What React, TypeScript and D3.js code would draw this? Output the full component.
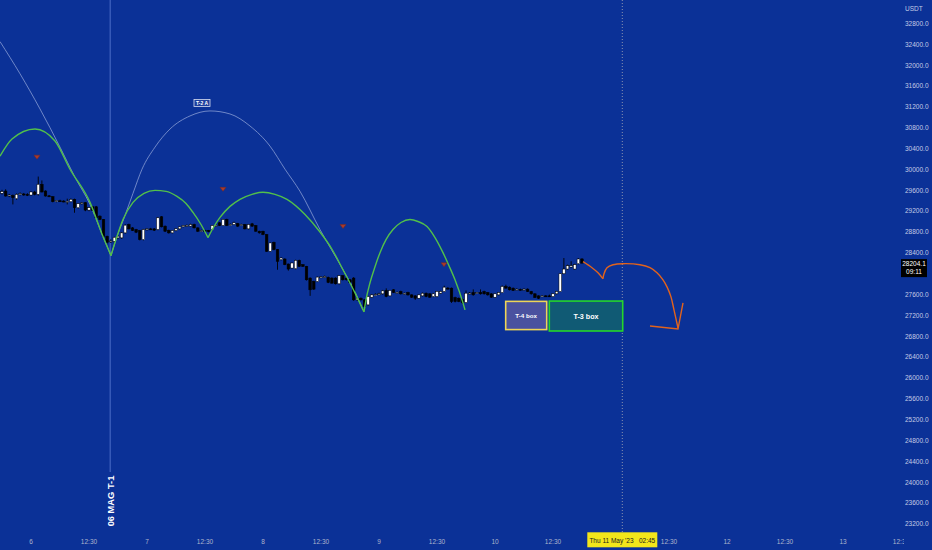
import React from "react";
import * as d3 from "d3";

const W = 932;
const H = 550;

// 45-minute bars, counted from 6 May 00:00 (32 bars per day)
const FIRST_BAR = -8;
const BARS_PER_DAY = 32;

const opens = [
  29545, 29587, 29495, 29500, 29440, 29520, 29530, 29522,
  29510, 29568, 29523, 29716, 29587, 29495, 29478, 29385, 29400, 29395,
  29383, 29382, 29427, 29266, 29343, 29362, 29221, 29285, 29285, 29105,
  29041, 28720, 28620, 28623, 28688, 28688, 28784, 28945, 28880, 28848,
  28829, 28656, 28848, 28861, 28861, 28848, 29093, 28913, 28835, 28784,
  28829, 28861, 28900, 28925, 28913, 28945, 28880, 28820, 28830, 28829,
  28848, 28925, 28977, 28925, 29041, 28940, 28945, 28964, 28940, 28945,
  28861, 28958, 28925, 28816, 28816, 28752, 28431, 28604, 28463, 28270,
  28283, 28187, 28109, 28097, 28257, 28174, 28141, 27917, 27852, 27852,
  27936, 27936, 27929, 27917, 27917, 27807, 27962, 27917, 27884, 27917,
  27499, 27531, 27499, 27403, 27550, 27595, 27600, 27615, 27679, 27576,
  27692, 27640, 27660, 27620, 27640, 27595, 27576, 27531, 27576, 27627,
  27615, 27563, 27563, 27627, 27660, 27724, 27724, 27544, 27531, 27512,
  27448, 27627, 27640, 27630, 27640, 27660, 27640, 27615, 27550, 27595,
  27640, 27756, 27743, 27724, 27700, 27700, 27692, 27705, 27660, 27615,
  27576, 27570, 27576, 27576, 27563, 27615, 27660, 28000, 28090, 28129,
  28090, 28193, 28283,
];
const highs = [
  29610, 29620, 29530, 29520, 29540, 29560, 29550, 29545,
  29580, 29590, 29864, 29790, 29600, 29510, 29490, 29410, 29420, 29410,
  29440, 29445, 29440, 29350, 29375, 29375, 29280, 29300, 29300, 29120,
  29050, 28730, 28660, 28710, 28730, 28800, 28950, 28960, 28895, 28860,
  28840, 28860, 28870, 28880, 28875, 29090, 29105, 28925, 28845, 28840,
  28870, 28910, 28935, 28945, 28960, 28960, 28890, 28845, 28845, 28840,
  28935, 28945, 28990, 29050, 29055, 28965, 29000, 28975, 28960, 28955,
  28955, 28975, 28935, 28825, 28825, 28760, 28600, 28615, 28475, 28315,
  28295, 28195, 28215, 28270, 28270, 28185, 28150, 27930, 27865, 27945,
  27955, 27965, 27945, 27930, 27930, 27975, 27975, 27930, 27900, 27935,
  27540, 27545, 27510, 27575, 27610, 27625, 27635, 27690, 27720, 27690,
  27705, 27660, 27675, 27640, 27655, 27605, 27590, 27605, 27640, 27640,
  27625, 27630, 27670, 27675, 27770, 27745, 27735, 27560, 27545, 27525,
  27680, 27650, 27700, 27650, 27700, 27675, 27650, 27625, 27625, 27650,
  27775, 27790, 27755, 27735, 27720, 27715, 27720, 27720, 27670, 27625,
  27585, 27590, 27590, 27600, 27625, 27670, 28010, 28302, 28175, 28240,
  28190, 28300, 28300,
];
const lows = [
  29520, 29480, 29470, 29330, 29420, 29500, 29495, 29490,
  29500, 29505, 29500, 29560, 29480, 29470, 29370, 29370, 29380, 29370,
  29330, 29370, 29170, 29250, 29330, 29200, 29200, 29205, 29060, 29030,
  28700, 28580, 28590, 28600, 28670, 28670, 28770, 28850, 28820, 28780,
  28640, 28640, 28830, 28845, 28820, 28835, 28890, 28800, 28770, 28775,
  28815, 28850, 28890, 28905, 28905, 28870, 28800, 28805, 28810, 28795,
  28835, 28910, 28915, 28915, 28915, 28925, 28935, 28900, 28925, 28850,
  28850, 28900, 28805, 28770, 28740, 28420, 28420, 28450, 28077, 28255,
  28165, 28060, 28100, 28085, 28130, 28130, 27870, 27576, 27690, 27840,
  27920, 27925, 27820, 27810, 27795, 27795, 27870, 27870, 27820, 27480,
  27480, 27485, 27350, 27390, 27540, 27580, 27590, 27600, 27550, 27565,
  27630, 27625, 27600, 27605, 27580, 27535, 27500, 27520, 27565, 27550,
  27540, 27550, 27550, 27615, 27650, 27700, 27440, 27450, 27455, 27420,
  27440, 27610, 27580, 27620, 27600, 27600, 27580, 27540, 27540, 27585,
  27630, 27715, 27680, 27670, 27690, 27680, 27685, 27650, 27600, 27535,
  27515, 27560, 27560, 27555, 27555, 27605, 27650, 27990, 28080, 28120,
  28080, 28180, 28195,
];
const closes = [
  29575, 29491, 29510, 29460, 29523, 29536, 29520, 29505,
  29568, 29523, 29716, 29568, 29491, 29491, 29382, 29405, 29395, 29385,
  29390, 29427, 29266, 29343, 29360, 29221, 29266, 29215, 29073, 29041,
  28720, 28604, 28630, 28700, 28720, 28784, 28932, 28861, 28829, 28797,
  28656, 28848, 28861, 28855, 28835, 29073, 28900, 28816, 28784, 28829,
  28861, 28900, 28925, 28930, 28945, 28880, 28816, 28830, 28825, 28810,
  28925, 28930, 28925, 29041, 28925, 28945, 28977, 28913, 28945, 28861,
  28945, 28913, 28816, 28784, 28752, 28431, 28591, 28463, 28238, 28302,
  28174, 28090, 28206, 28257, 28141, 28141, 27884, 27692, 27705, 27936,
  27940, 27949, 27833, 27820, 27807, 27962, 27884, 27884, 27833, 27499,
  27531, 27499, 27370, 27563, 27595, 27600, 27615, 27672, 27563, 27679,
  27640, 27645, 27615, 27627, 27595, 27550, 27531, 27595, 27627, 27563,
  27550, 27615, 27660, 27660, 27743, 27720, 27467, 27467, 27467, 27448,
  27627, 27630, 27595, 27640, 27615, 27615, 27595, 27550, 27615, 27640,
  27756, 27724, 27692, 27679, 27705, 27692, 27705, 27660, 27615, 27544,
  27531, 27576, 27570, 27563, 27615, 27660, 28000, 28090, 28154, 28154,
  28174, 28283, 28204.1,
];

const priceTicks = [
  23200, 23600, 24000, 24400, 24800, 25200, 25600, 26000, 26400, 26800,
  27200, 27600, 28000, 28400, 28800, 29200, 29600, 30000, 30400, 30800,
  31200, 31600, 32000, 32400, 32800,
];
const dayTicks = [6, 7, 8, 9, 10, 11, 12, 13];
const dayLabels = ["6", "7", "8", "9", "10", "11", "12", "13"];
const halfDayTicks = [6.5, 7.5, 8.5, 9.5, 10.5, 11.5, 12.5, 13.5];
const halfDayLabel = "12:30";
const currency = "USDT";
const lastPrice = 28204.1;
const lastPriceText = "28204.1";
const countdownText = "09:11";

// Drawings, as [day of May, price]
const greenArcs: [number, number][][] = [
  [[5.7328, 30255], [5.8362, 30583], [6.0345, 30776], [6.2069, 30545], [6.3362, 30005], [6.5086, 29369], [6.6207, 28713], [6.6897, 28347]],
  [[6.6897, 28347], [6.7241, 28598], [6.7931, 29041], [6.8793, 29369], [6.9741, 29542], [7.069, 29600], [7.1638, 29581], [7.2586, 29484], [7.3362, 29349], [7.3966, 29176], [7.4655, 28945], [7.5259, 28694]],
  [[7.5259, 28694], [7.5776, 28906], [7.6293, 29080], [7.7155, 29292], [7.8017, 29427], [7.9052, 29523], [8.0, 29562], [8.1034, 29523], [8.2069, 29427], [8.3621, 29137], [8.4914, 28800], [8.5948, 28470], [8.6897, 28077], [8.7931, 27634], [8.8707, 27268]],
  [[8.8707, 27268], [8.8879, 27499], [8.9224, 27827], [8.9655, 28135], [9.0086, 28405], [9.0603, 28655], [9.1207, 28848], [9.1897, 28983], [9.2672, 29041], [9.3362, 29002], [9.4138, 28906], [9.4828, 28694], [9.5517, 28405], [9.6034, 28154], [9.6552, 27884], [9.7241, 27441], [9.7414, 27306]],
];
const thinArcs: [number, number][][] = [
  [[5.7328, 32453], [5.9052, 31836], [6.0776, 31161], [6.25, 30429], [6.3793, 29851], [6.5086, 29330], [6.6207, 28713], [6.6897, 28347]],
  [[6.6897, 28347], [6.7241, 28598], [6.8103, 29118], [6.8793, 29542], [6.9569, 30005], [7.069, 30429], [7.1983, 30776], [7.3707, 31027], [7.5431, 31123], [7.7155, 31065], [7.8879, 30834], [8.0603, 30448], [8.1897, 30005], [8.319, 29581], [8.4914, 28848], [8.6897, 28077], [8.7931, 27653], [8.8621, 27306]],
];
const orangeHook: [number, number][] = [[10.7586, 28231], [10.8362, 28116], [10.8879, 28019], [10.931, 27904]];
const orangeArc: [number, number][] = [[10.931, 27904], [10.9397, 28000], [10.9655, 28116], [11.0172, 28173], [11.1034, 28193], [11.25, 28173], [11.3362, 28116], [11.3966, 28019], [11.4483, 27884], [11.4828, 27749], [11.5172, 27557], [11.5431, 27306], [11.5776, 26959]];
const arrowHead: [number, number][] = [[11.3362, 26998], [11.5776, 26940], [11.6207, 27441]];
const redMarkers: [number, number][] = [[6.0517, 30236], [7.6552, 29619], [8.6897, 28906], [9.5603, 28173]];
const t2Label = { day: 7.4741, price: 31277, text: "T-2 A" };
const t1Day = 6.6825;
const t1Text = "06 MAG T-1";
const crosshairDay = 11.0974;
const crosshairText = "Thu 11 May '23   02:45";
const t4Box = { d0: 10.0922, d1: 10.4457, p0: 27470, p1: 26929, text: "T-4 box" };
const t3Box = { d0: 10.4681, d1: 11.1009, p0: 27476, p1: 26902, text: "T-3 box" };

const BG = "#0b3197";
const FONT = "'Liberation Sans', Arial, sans-serif";

export default function App() {
  const x = d3.scaleLinear().domain([6, 13]).range([31, 843]);
  const y = d3.scaleLinear().domain([23200, 32800]).range([524, 23.5]);
  const barW = (x(1 / BARS_PER_DAY) - x(0)) * 0.72;

  const smooth = d3
    .line<[number, number]>()
    .x((d) => x(d[0]))
    .y((d) => y(d[1]))
    .curve(d3.curveMonotoneX);
  const line = d3
    .line<[number, number]>()
    .x((d) => x(d[0]))
    .y((d) => y(d[1]))
    .curve(d3.curveCatmullRom.alpha(0.5));
  const straight = d3
    .line<[number, number]>()
    .x((d) => x(d[0]))
    .y((d) => y(d[1]));

  const candles = closes.map((c, k) => {
    const t = 6 + (FIRST_BAR + k) / BARS_PER_DAY;
    return { t, o: opens[k], h: highs[k], l: lows[k], c };
  });

  // price-axis labels hidden behind the last-price tag, time labels hidden behind the crosshair tag
  const tagTop = y(lastPrice) - 4;
  const tagBottom = tagTop + 18;
  const visiblePriceTicks = priceTicks.filter((p) => y(p) + 3 < tagTop || y(p) - 3 > tagBottom);
  const chX = x(crosshairDay);
  const visibleDay = dayTicks.map((d, i) => ({ d, label: dayLabels[i] })).filter((o) => Math.abs(x(o.d) - chX) > 40);
  const visibleHalf = halfDayTicks.filter((d) => Math.abs(x(d) - chX) > 44);

  return (
    <svg width={W} height={H} style={{ display: "block", position: "absolute", left: 0, top: 0, background: BG }}>
      <defs>
        <clipPath id="pane">
          <rect x={0} y={0} width={888} height={532} />
        </clipPath>
        <clipPath id="xaxis">
          <rect x={0} y={532} width={904} height={18} />
        </clipPath>
      </defs>
      <rect x={0} y={0} width={W} height={H} fill={BG} />

      {/* vertical T-1 line */}
      <line x1={x(t1Day)} x2={x(t1Day)} y1={0} y2={472} stroke="#5f7fd6" strokeWidth={1} opacity={0.8} />
      <text
        transform={`translate(${x(t1Day) + 3.4},${501}) rotate(-90)`}
        textAnchor="middle"
        fontFamily={FONT}
        fontWeight="bold"
        fontSize={9.3}
        fill="#ffffff"
      >
        {t1Text}
      </text>

      {/* crosshair dotted line */}
      <line x1={chX} x2={chX} y1={0} y2={532} stroke="#8a93b0" strokeWidth={1} strokeDasharray="1,2" />

      <g clipPath="url(#pane)">
        {thinArcs.map((a, i) => (
          <path key={"t" + i} d={smooth(a) || ""} fill="none" stroke="#8ea2d8" strokeWidth={0.9} opacity={0.85} />
        ))}

        {candles.map((d, i) => {
          const up = d.c >= d.o;
          const cx = x(d.t);
          const top = y(Math.max(d.o, d.c));
          const bot = y(Math.min(d.o, d.c));
          const bh = Math.max(1, bot - top);
          return (
            <g key={i}>
              <line x1={cx} x2={cx} y1={y(d.h)} y2={y(d.l)} stroke="#000" strokeWidth={0.9} />
              <rect
                x={cx - barW / 2}
                y={top}
                width={barW}
                height={bh}
                fill={up ? "#ffffff" : "#000000"}
                stroke="#000"
                strokeWidth={0.5}
              />
            </g>
          );
        })}

        {greenArcs.map((a, i) => (
          <path key={"g" + i} d={smooth(a) || ""} fill="none" stroke="#52c04a" strokeWidth={1.4} />
        ))}

        {redMarkers.map((m, i) => {
          const mx = x(m[0]);
          const my = y(m[1]);
          return (
            <path
              key={"r" + i}
              d={`M${mx - 3},${my - 2} L${mx + 3},${my - 2} L${mx},${my + 2} Z`}
              fill="#a83a2c"
              stroke="#7d281d"
              strokeWidth={0.5}
            />
          );
        })}

        <g>
          <rect
            x={x(t2Label.day) - 8}
            y={y(t2Label.price) - 3.5}
            width={16}
            height={7}
            fill="#1d3e9e"
            stroke="#d8def0"
            strokeWidth={0.8}
          />
          <text
            x={x(t2Label.day)}
            y={y(t2Label.price) + 1.8}
            textAnchor="middle"
            fontFamily={FONT}
            fontWeight="bold"
            fontSize={5}
            fill="#ffffff"
          >
            {t2Label.text}
          </text>
        </g>

        <rect
          x={x(t4Box.d0)}
          y={y(t4Box.p0)}
          width={x(t4Box.d1) - x(t4Box.d0)}
          height={y(t4Box.p1) - y(t4Box.p0)}
          fill="#4a519f"
          stroke="#efd557"
          strokeWidth={1.6}
        />
        <text
          x={(x(t4Box.d0) + x(t4Box.d1)) / 2}
          y={(y(t4Box.p0) + y(t4Box.p1)) / 2 + 2.2}
          textAnchor="middle"
          fontFamily={FONT}
          fontWeight="bold"
          fontSize={6.2}
          fill="#ffffff"
        >
          {t4Box.text}
        </text>
        <rect
          x={x(t3Box.d0)}
          y={y(t3Box.p0)}
          width={x(t3Box.d1) - x(t3Box.d0)}
          height={y(t3Box.p1) - y(t3Box.p0)}
          fill="#105a74"
          stroke="#25d62a"
          strokeWidth={1.6}
        />
        <text
          x={(x(t3Box.d0) + x(t3Box.d1)) / 2}
          y={(y(t3Box.p0) + y(t3Box.p1)) / 2 + 2.5}
          textAnchor="middle"
          fontFamily={FONT}
          fontWeight="bold"
          fontSize={7.2}
          fill="#ffffff"
        >
          {t3Box.text}
        </text>

        <path d={line(orangeHook) || ""} fill="none" stroke="#e2631c" strokeWidth={1.4} />
        <path d={line(orangeArc) || ""} fill="none" stroke="#e2631c" strokeWidth={1.4} />
        <path d={straight(arrowHead) || ""} fill="none" stroke="#e2631c" strokeWidth={1.4} />
      </g>

      {/* price axis */}
      <text x={905} y={10.5} fontFamily={FONT} fontSize={6.5} fill="#c3cbe6">
        {currency}
      </text>
      {visiblePriceTicks.map((p) => (
        <text key={p} x={905} y={y(p) + 2.3} fontFamily={FONT} fontSize={6.5} fill="#c3cbe6">
          {p.toFixed(1)}
        </text>
      ))}
      <rect x={901} y={tagTop} width={26} height={18} fill="#000000" />
      <text x={914} y={y(lastPrice) + 3} textAnchor="middle" fontFamily={FONT} fontSize={6.5} fill="#ffffff">
        {lastPriceText}
      </text>
      <text x={914} y={y(lastPrice) + 11} textAnchor="middle" fontFamily={FONT} fontSize={6.5} fill="#ffffff">
        {countdownText}
      </text>

      {/* time axis */}
      <g clipPath="url(#xaxis)">
        {visibleDay.map((o) => (
          <text key={"d" + o.d} x={x(o.d)} y={543.5} textAnchor="middle" fontFamily={FONT} fontSize={6.5} fill="#aeb5cc">
            {o.label}
          </text>
        ))}
        {visibleHalf.map((d) => (
          <text key={"h" + d} x={x(d)} y={543.5} textAnchor="middle" fontFamily={FONT} fontSize={6.5} fill="#aeb5cc">
            {halfDayLabel}
          </text>
        ))}
      </g>
      <rect x={chX - 35} y={532.3} width={70} height={15} fill="#f3e61a" />
      <text x={chX} y={542.7} textAnchor="middle" fontFamily={FONT} fontSize={6.5} fill="#1a1a1a" xmlSpace="preserve">
        {crosshairText}
      </text>
    </svg>
  );
}
